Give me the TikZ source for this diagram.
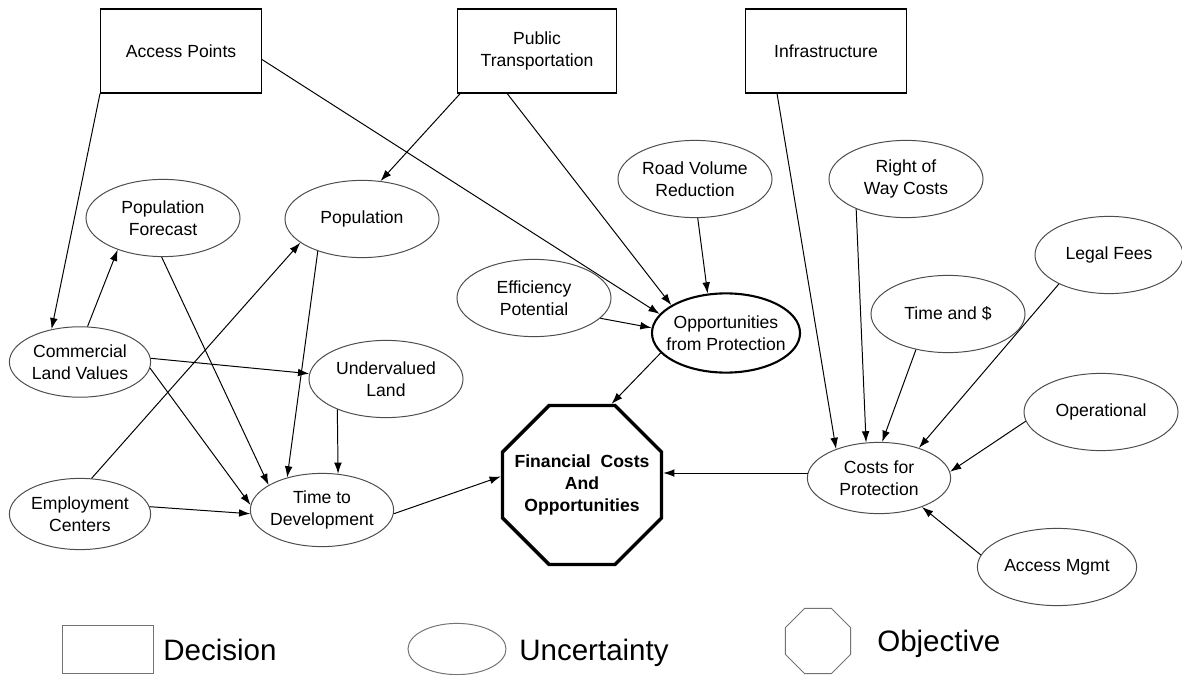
\documentclass[tikz,border=0pt]{standalone}
\usepackage{fontspec}
\setmainfont{Liberation Sans}
\usetikzlibrary{arrows.meta,shapes.geometric}

\begin{document}
\begin{tikzpicture}[
    x=0.025cm, y=-0.025cm,
    >={Latex[length=8pt,width=5.5pt]},
    font=\fontsize{12.5}{15.6}\selectfont,
    decision/.style={
		rectangle,
		draw=black,
		line width=0.8pt,
		minimum width=4.02cm,
		minimum height=2.1cm,
		align=center
	},
    uncert/.style={
		ellipse,
		draw=black!70,
		line width=0.7pt,
		inner xsep=-12pt,
		inner ysep=0pt,
		minimum width=3.85cm,
		minimum height=1.93cm,
		align=center
	},
	objective/.style={
		regular polygon,
		regular polygon sides=8,
		draw=black,
		line width=2.4pt,
		minimum size=4.3cm,
		inner sep=-14pt,
		align=center,
		font=\fontsize{12.5}{15.6}\selectfont\bfseries
	},
	legend/.style={
		draw=black!55,
		line width=0.7pt
	},
	legtext/.style={
		anchor=base west,
		inner sep=0pt,
		font=\fontsize{21}{24}\selectfont
	},
	link/.style={
		->,
		line width=0.7pt
	}
  ]
  \useasboundingbox (0,0) rectangle (1182,675);

  % decisions along the top
  \node [decision] (ap) at (181,51) {Access Points};
  \node [decision, minimum width=3.98cm] (pt) at (537,51) {Public\\Transportation};
  \node [decision] (inf) at (826,51) {Infrastructure};

  % uncertainties
  \node [uncert, minimum height=1.93cm] (pf) at (163,218) {Population\\Forecast};
  \node [uncert] (pop) at (362,219) {Population};
  \node [uncert] (rv) at (695,179) {Road Volume\\Reduction};
  \node [uncert] (row) at (906,179) {Right of\\Way Costs};
  \node [uncert, minimum width=3.7cm] (lf) at (1109,255) {Legal Fees};
  \node [uncert] (eff) at (534,298) {Efficiency\\Potential};
  \node [uncert, draw=black, line width=1.5pt, minimum width=3.7cm, minimum height=1.98cm] (opp) at (726,333)
    {Opportunities\\from Protection};
  \node [uncert] (ts) at (948,314) {Time and \$};
  \node [uncert, minimum width=3.53cm, minimum height=1.76cm] (clv) at (80,362) {Commercial\\Land Values};
  \node [uncert] (uv) at (386,379) {Undervalued\\Land};
  \node [uncert] (op) at (1101,412) {Operational};
  \node [uncert, minimum width=3.58cm, minimum height=1.78cm] (cfp) at (879,478) {Costs for\\Protection};
  \node [uncert, minimum width=3.53cm, minimum height=1.78cm] (emp) at (80,514) {Employment\\Centers};
  \node [uncert, minimum width=3.58cm, minimum height=1.83cm] (ttd) at (322,510) {Time to\\Development};
  \node [uncert, minimum width=3.98cm] (am) at (1057,567) {Access Mgmt};

  % objective
  \node [objective] (fco) at (582,485) {Financial~~Costs\\And\\Opportunities};

  % links
  \draw [link] (ap.south west) -- (clv.131);
  \draw [link] (ap.-6) -- (opp.164);
  \draw [link] (pt.209) -- (pop.64);
  \draw [link] (pt.235) -- (opp.153);
  \draw [link] (rv.274) -- (opp.115);
  \draw [link] (eff.-17) -- (opp.176);
  \draw [link] (opp.197) -- (fco.70);
  \draw [link] (inf.221) -- (cfp.146);
  \draw [link] (row.211) -- (cfp.110);
  \draw [link] (ts.228) -- (cfp.85);
  \draw [link] (lf.210) -- (cfp.37);
  \draw [link] (op.187) -- (cfp.5);
  \draw [link] (am.171) -- (cfp.-34);
  \draw [link] (cfp.176) -- (cfp.176 -| fco.east);
  \draw [link] (ttd.-3) -- (fco.174);
  \draw [link] (clv.78) -- (pf.215);
  \draw [link] (clv.3) -- (uv.176);
  \draw [link] (clv.-5) -- (ttd.176);
  \draw [link] (pf.268) -- (ttd.155);
  \draw [link] (pop.216) -- (ttd.137);
  \draw [link] (emp.72) -- (pop.201);
  \draw [link] (emp.6) -- (ttd.183);
  \draw [link] (uv.212) -- (ttd.66);

  % legend
  \node [legend, rectangle, minimum width=2.25cm, minimum height=1.2cm] (legdec) at (108,649) {};
  \node [legtext] (legdect) at (163,660) {Decision};
  \node [legend, ellipse, minimum width=2.45cm, minimum height=1.28cm] (legunc) at (457,649) {};
  \node [legtext] (leguncT) at (519,660) {Uncertainty};
  \node [legend, regular polygon, regular polygon sides=8, minimum size=1.76cm, inner sep=0pt] (legobj) at (818,641) {};
  \node [legtext] (legobjt) at (877,651) {Objective};
\end{tikzpicture}
\end{document}
